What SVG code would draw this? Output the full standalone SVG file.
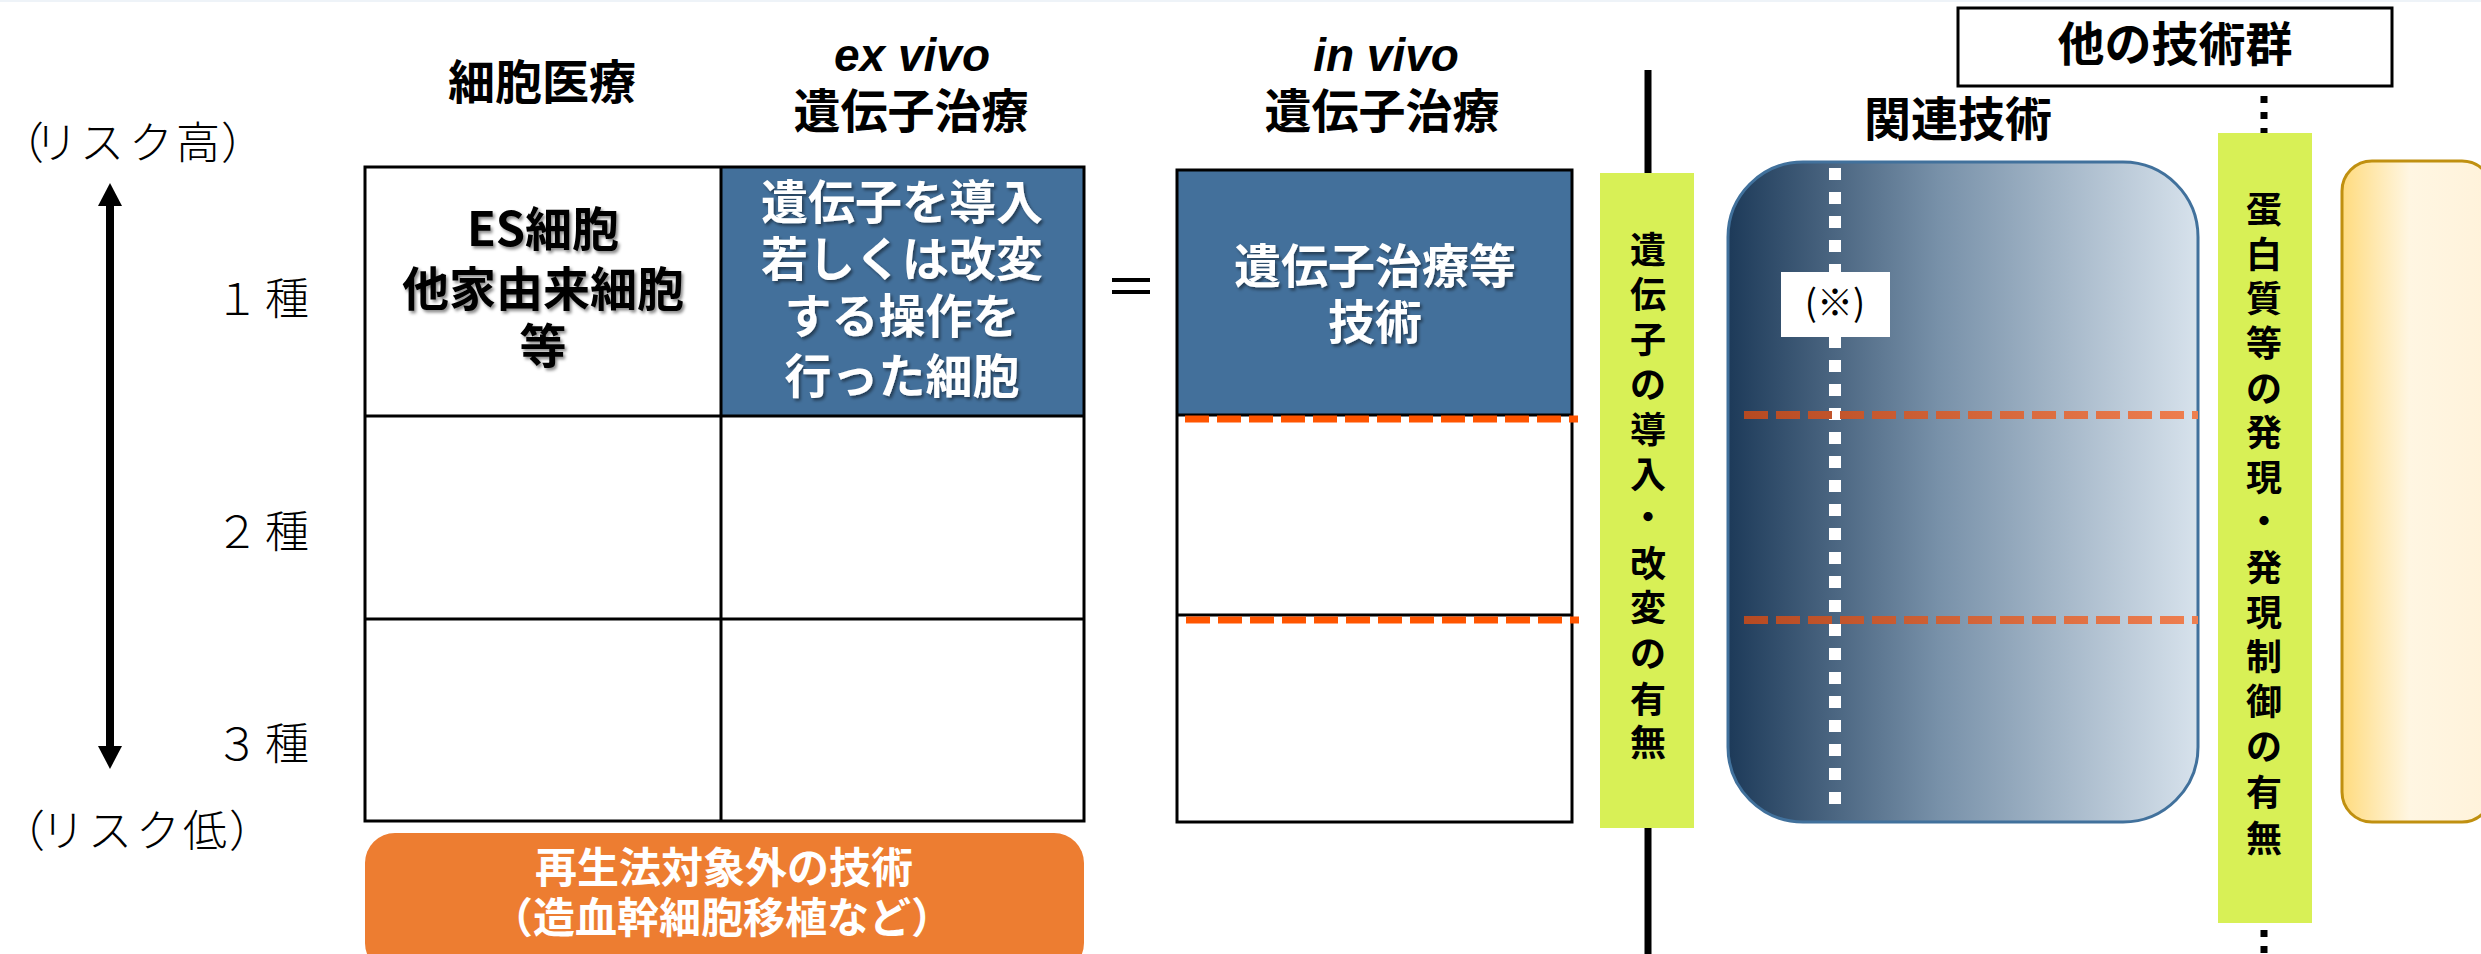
<svg xmlns="http://www.w3.org/2000/svg" width="2481" height="954" viewBox="0 0 2481 954">
<style>
.jp{font-family:"Noto Sans CJK JP","Noto Sans CJK SC",sans-serif;}
.light{font-weight:300;}
.hd{font-size:47px;font-weight:700;text-anchor:middle;fill:#000;}
.cellw{font-size:47px;font-weight:700;text-anchor:middle;fill:#fff;}
.cellk{font-size:47px;font-weight:700;text-anchor:middle;fill:#000;}
.side{font-size:44px;fill:#000;text-anchor:middle;}
.vt{font-size:36px;font-weight:700;text-anchor:middle;fill:#000;}
.grid{fill:none;stroke:#000;stroke-width:3;}
.odash{fill:none;stroke:#FF5500;stroke-width:7;stroke-dasharray:24 8;}
.ydash{fill:none;stroke:url(#og);stroke-width:8;stroke-dasharray:24 8;}
</style>
<defs>
<linearGradient id="bg" x1="0" y1="0" x2="1" y2="0">
<stop offset="0" stop-color="#1D3A59"/>
<stop offset="0.45" stop-color="#7891A9"/>
<stop offset="1" stop-color="#D7E2EC"/>
</linearGradient>
<linearGradient id="og" gradientUnits="userSpaceOnUse" x1="1744" y1="0" x2="2198" y2="0">
<stop offset="0" stop-color="#B64A22"/>
<stop offset="1" stop-color="#EF7F50"/>
</linearGradient>
<linearGradient id="yg" x1="0" y1="0" x2="1" y2="0">
<stop offset="0" stop-color="#FFDB7E"/>
<stop offset="0.45" stop-color="#FFF6E2"/>
<stop offset="1" stop-color="#FFF2DA"/>
</linearGradient>
<filter id="sh" x="-10%" y="-10%" width="120%" height="130%">
<feDropShadow dx="2" dy="2.5" stdDeviation="1.5" flood-color="#000" flood-opacity="0.45"/>
</filter>
</defs>
<rect x="0" y="0" width="2481" height="954" fill="#fff"/>
<rect x="0" y="0" width="2481" height="2" fill="#EEF3F8"/>

<g id="risk-axis">
<text class="jp light side" y="159"><tspan x="22">（</tspan><tspan x="56">リ</tspan><tspan x="102">ス</tspan><tspan x="151">ク</tspan><tspan x="198">高</tspan><tspan x="243">）</tspan></text>
<text class="jp light side" y="847"><tspan x="23">（</tspan><tspan x="63">リ</tspan><tspan x="110">ス</tspan><tspan x="158">ク</tspan><tspan x="205">低</tspan><tspan x="251">）</tspan></text>
<line x1="110" y1="205" x2="110" y2="747" stroke="#000" stroke-width="8"/>
<path d="M98,206 L110,183 L122,206 Z" fill="#000"/>
<path d="M98,746 L110,769 L122,746 Z" fill="#000"/>
<text class="jp light side" y="315"><tspan x="237">１</tspan><tspan x="287">種</tspan></text>
<text class="jp light side" y="548"><tspan x="237">２</tspan><tspan x="287">種</tspan></text>
<text class="jp light side" y="760"><tspan x="237">３</tspan><tspan x="287">種</tspan></text>
</g>

<g id="headers">
<text class="jp hd" x="542" y="99">細胞医療</text>
<text x="912" y="71" font-family="Liberation Sans, Arial, sans-serif" font-size="46" font-weight="700" font-style="italic" text-anchor="middle">ex vivo</text>
<text class="jp hd" x="911" y="128">遺伝子治療</text>
<text x="1386" y="71" font-family="Liberation Sans, Arial, sans-serif" font-size="46" font-weight="700" font-style="italic" text-anchor="middle">in vivo</text>
<text class="jp hd" x="1382" y="128">遺伝子治療</text>
</g>

<g id="table-cell-therapy">
<rect x="721" y="167" width="363" height="249" fill="#43709B"/>
<rect class="grid" x="365" y="167" width="719" height="654"/>
<line class="grid" x1="721" y1="167" x2="721" y2="821"/>
<line class="grid" x1="365" y1="416" x2="1084" y2="416"/>
<line class="grid" x1="365" y1="619" x2="1084" y2="619"/>
<g filter="url(#sh)">
<text class="jp cellk" x="543" y="246">ES細胞</text>
<text class="jp cellk" x="543" y="306">他家由来細胞</text>
<text class="jp cellk" x="543" y="363">等</text>
</g>
<g filter="url(#sh)">
<text class="jp cellw" x="902" y="219">遺伝子を導入</text>
<text class="jp cellw" x="902" y="276">若しくは改変</text>
<text class="jp cellw" x="902" y="333">する操作を</text>
<text class="jp cellw" x="902" y="393">行った細胞</text>
</g>
</g>

<g id="equals">
<rect x="1112" y="278" width="38" height="4" fill="#000"/>
<rect x="1112" y="290" width="38" height="4" fill="#000"/>
</g>

<g id="table-in-vivo">
<rect x="1177" y="170" width="395" height="245" fill="#43709B"/>
<rect class="grid" x="1177" y="170" width="395" height="652"/>
<line class="grid" x1="1177" y1="415" x2="1572" y2="415"/>
<line class="grid" x1="1177" y1="615" x2="1572" y2="615"/>
<line class="odash" x1="1185" y1="419" x2="1578" y2="419"/>
<line class="odash" x1="1186" y1="620" x2="1579" y2="620"/>
<g filter="url(#sh)">
<text class="jp cellw" x="1375" y="283">遺伝子治療等</text>
<text class="jp cellw" x="1375" y="339">技術</text>
</g>
</g>

<g id="divider">
<line x1="1648" y1="70" x2="1648" y2="954" stroke="#000" stroke-width="7"/>
</g>

<g id="bar-gene">
<rect x="1600" y="173" width="94" height="655" fill="#D8F056"/>
<text class="jp vt">
<tspan x="1648" y="263">遺</tspan><tspan x="1648" y="308">伝</tspan><tspan x="1648" y="353">子</tspan><tspan x="1648" y="398">の</tspan><tspan x="1648" y="443">導</tspan><tspan x="1648" y="488">入</tspan><tspan x="1648" y="531">・</tspan><tspan x="1648" y="577">改</tspan><tspan x="1648" y="621">変</tspan><tspan x="1648" y="667">の</tspan><tspan x="1648" y="713">有</tspan><tspan x="1648" y="756">無</tspan>
</text>
</g>

<g id="related-tech">
<text class="jp hd" x="1958" y="136">関連技術</text>
<rect x="1728" y="162" width="470" height="660" rx="75" ry="75" fill="url(#bg)" stroke="#41719C" stroke-width="3"/>
<line x1="1835" y1="168" x2="1835" y2="814" stroke="#fff" stroke-width="12" stroke-dasharray="12 12"/>
<line class="ydash" x1="1744" y1="415" x2="2198" y2="415"/>
<line class="ydash" x1="1744" y1="620" x2="2198" y2="620"/>
<rect x="1781" y="272" width="109" height="65" fill="#fff"/>
<text class="jp" x="1835" y="316" font-size="36" text-anchor="middle">(※)</text>
</g>

<g id="other-tech">
<rect x="1958" y="8" width="434" height="78" fill="#fff" stroke="#000" stroke-width="3"/>
<text class="jp hd" x="2175" y="61">他の技術群</text>
</g>

<g id="connectors">
<line x1="2264" y1="96" x2="2264" y2="133" stroke="#000" stroke-width="7" stroke-dasharray="7 9"/>
<line x1="2264" y1="930" x2="2264" y2="954" stroke="#000" stroke-width="7" stroke-dasharray="7 9"/>
</g>

<g id="bar-protein">
<rect x="2218" y="133" width="94" height="790" fill="#D8F056"/>
<text class="jp vt">
<tspan x="2264" y="223">蛋</tspan><tspan x="2264" y="268">白</tspan><tspan x="2264" y="312">質</tspan><tspan x="2264" y="357">等</tspan><tspan x="2264" y="402">の</tspan><tspan x="2264" y="446">発</tspan><tspan x="2264" y="491">現</tspan><tspan x="2264" y="535">・</tspan><tspan x="2264" y="581">発</tspan><tspan x="2264" y="626">現</tspan><tspan x="2264" y="670">制</tspan><tspan x="2264" y="715">御</tspan><tspan x="2264" y="760">の</tspan><tspan x="2264" y="806">有</tspan><tspan x="2264" y="852">無</tspan>
</text>
</g>

<g id="yellow-box">
<rect x="2342" y="161" width="150" height="661" rx="30" ry="30" fill="url(#yg)" stroke="#C09010" stroke-width="3"/>
</g>

<g id="outside-law">
<rect x="365" y="833" width="719" height="140" rx="30" ry="30" fill="#ED7D31"/>
<text class="jp" x="724" y="883" font-size="42" font-weight="700" fill="#fff" text-anchor="middle">再生法対象外の技術</text>
<text class="jp" x="722" y="933" font-size="42" font-weight="700" fill="#fff" text-anchor="middle">（造血幹細胞移植など）</text>
</g>
</svg>
